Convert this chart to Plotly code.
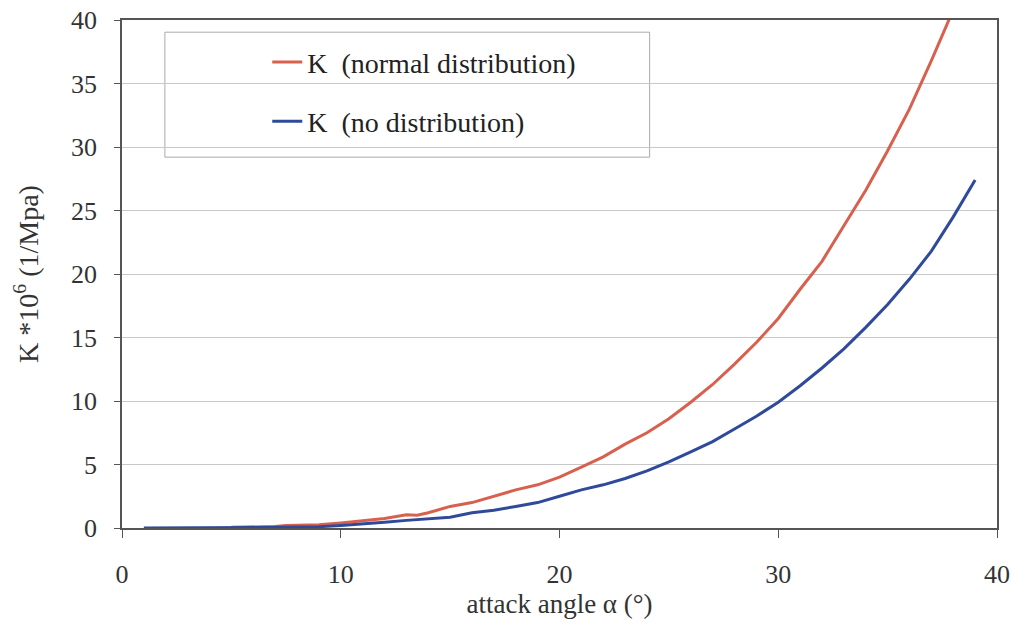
import plotly.graph_objects as go

angle_normal = [5, 6, 7, 7.5, 8, 9, 10, 11, 12, 13, 13.5, 14, 15, 16, 17, 18, 19, 20, 21, 22, 23, 24, 25,
                26, 27, 28, 29, 30, 31, 32, 33, 34, 35, 36, 37, 38]
k_normal = [0.05, 0.08, 0.12, 0.2, 0.2, 0.25, 0.4, 0.55, 0.75, 1.05, 1.0, 1.2, 1.7, 2.0, 2.5, 3.0, 3.4, 4.0,
            4.8, 5.6, 6.6, 7.5, 8.6, 9.9, 11.3, 12.9, 14.6, 16.5, 18.8, 21.0, 23.8, 26.6, 29.7, 33.0, 36.8, 40.8]

angle_none = [1, 2, 3, 4, 5, 6, 7, 8, 9, 10, 11, 12, 13, 14, 15, 16, 17, 18, 19, 20, 21, 22, 23, 24, 25,
              26, 27, 28, 29, 30, 31, 32, 33, 34, 35, 36, 37, 38, 39]
k_none = [0, 0, 0, 0, 0, 0.02, 0.05, 0.08, 0.1, 0.2, 0.3, 0.45, 0.6, 0.7, 0.85, 1.2, 1.4, 1.7, 2.0, 2.5,
          3.0, 3.4, 3.9, 4.5, 5.2, 6.0, 6.8, 7.8, 8.8, 9.9, 11.2, 12.6, 14.1, 15.8, 17.6, 19.6, 21.8, 24.5, 27.4]

x_ticks = [0, 10, 20, 30, 40]
y_ticks = [0, 5, 10, 15, 20, 25, 30, 35, 40]

FONT = "Liberation Serif, Times New Roman, serif"
RED = "#d8604f"
BLUE = "#2f4a9a"

fig = go.Figure()
fig.add_trace(go.Scatter(x=angle_normal, y=k_normal, mode="lines", name="K  (normal distribution)",
                         line=dict(color=RED, width=3), legendgroup="a"))
fig.add_trace(go.Scatter(x=angle_none, y=k_none, mode="lines", name="K  (no distribution)",
                         line=dict(color=BLUE, width=3), legendgroup="b"))

fig.update_layout(
    width=1020, height=627,
    margin=dict(l=122, r=23, t=20, b=99, autoexpand=False),
    paper_bgcolor="white", plot_bgcolor="white",
    font=dict(family=FONT, size=26, color="#333333"),
    showlegend=True,
    legend=dict(x=0.166, y=0.966, xanchor="left", yanchor="top",
                bgcolor="rgba(0,0,0,0)", borderwidth=0,
                font=dict(family=FONT, size=28, color="#222222"),
                traceorder="grouped", tracegroupgap=20),
    shapes=[dict(type="rect", xref="paper", yref="paper", x0=0.049, x1=0.603, y0=0.73, y1=0.976,
                 line=dict(color="#aaaaaa", width=1), fillcolor="white", layer="below")],
)
fig.update_xaxes(range=[0, 40], tickvals=x_ticks, showgrid=False, zeroline=False, automargin=False,
                 showline=True, linecolor="#555555", linewidth=1.5, mirror=True,
                 ticks="outside", ticklen=8, tickcolor="#555555", ticklabelstandoff=14,
                 tickfont=dict(size=26),
                 title=dict(text="attack angle α (°)", standoff=4, font=dict(size=27)))
fig.update_yaxes(range=[0, 40], tickvals=y_ticks, showgrid=True, gridcolor="#c8c8c8", gridwidth=1,
                 zeroline=False, automargin=False, showline=True, linecolor="#555555", linewidth=1.5, mirror=True,
                 ticks="outside", ticklen=6, tickcolor="#555555", ticklabelstandoff=12,
                 tickfont=dict(size=26),
                 title=dict(text="K *10<sup>6</sup> (1/Mpa)", standoff=24, font=dict(size=28)))

fig.write_html("out.html")
